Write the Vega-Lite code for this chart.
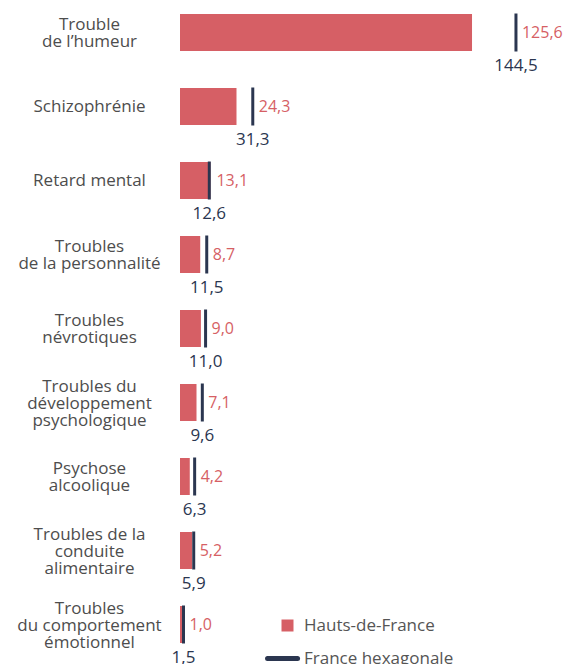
{
  "$schema": "https://vega.github.io/schema/vega-lite/v6.json",
  "width": 372,
  "height": 629,
  "autosize": {"type": "none"},
  "padding": {"left": 180, "top": 14, "right": 11, "bottom": 21},
  "background": "white",
  "config": {
    "view": {"stroke": null},
    "font": "Open Sans",
    "locale": {"number": {"decimal": ",", "thousands": " ", "grouping": [3], "currency": ["", " €"]}}
  },
  "data": {
    "values": [
      {"cat": "Trouble|de l’humeur", "hdf": 125.6, "fr": 144.5},
      {"cat": "Schizophrénie", "hdf": 24.3, "fr": 31.3},
      {"cat": "Retard mental", "hdf": 13.1, "fr": 12.6},
      {"cat": "Troubles|de la personnalité", "hdf": 8.7, "fr": 11.5},
      {"cat": "Troubles|névrotiques", "hdf": 9.0, "fr": 11.0},
      {"cat": "Troubles du|développement|psychologique", "hdf": 7.1, "fr": 9.6},
      {"cat": "Psychose|alcoolique", "hdf": 4.2, "fr": 6.3},
      {"cat": "Troubles de la|conduite|alimentaire", "hdf": 5.2, "fr": 5.9},
      {"cat": "Troubles|du comportement|émotionnel", "hdf": 1.0, "fr": 1.5}
    ]
  },
  "transform": [{"calculate": "max(datum.hdf, datum.fr)", "as": "mx"}],
  "encoding": {
    "y": {
      "field": "cat",
      "type": "nominal",
      "sort": null,
      "scale": {"paddingInner": 0.5, "paddingOuter": 0},
      "axis": {
        "title": null,
        "ticks": false,
        "domain": false,
        "labelAlign": "center",
        "labelPadding": 91,
        "labelFont": "Open Sans",
        "labelFontSize": 17,
        "labelColor": "#4d4d4d",
        "labelLineHeight": 17,
        "labelLimit": 0,
        "labelExpr": "split(datum.label, '|')",
        "labelOffset": {
          "condition": [
            {"test": "length(split(datum.value, '|')) == 3", "value": -16},
            {"test": "length(split(datum.value, '|')) == 2", "value": -7.5}
          ],
          "value": 0
        }
      }
    }
  },
  "layer": [
    {
      "mark": {"type": "bar"},
      "encoding": {
        "x": {"field": "hdf", "type": "quantitative", "scale": {"domain": [0, 160]}, "axis": null},
        "color": {
          "datum": "Hauts-de-France",
          "scale": {"domain": ["Hauts-de-France", "France hexagonale"], "range": ["#d65f65", "#2b3650"]},
          "legend": {
            "orient": "none",
            "legendX": 99,
            "legendY": 603,
            "title": null,
            "padding": 0,
            "labelFont": "Open Sans",
            "labelFontSize": 17,
            "labelColor": "#555555",
            "symbolSize": 144,
            "symbolType": "square",
            "rowPadding": 14,
            "labelOffset": 8,
            "encode": {
              "symbols": {
                "update": {
                  "shape": {"signal": "datum.value === 'France hexagonale' ? 'M-1.33,0H0.67' : 'square'"},
                  "size": {"signal": "datum.value === 'France hexagonale' ? 900 : 144"},
                  "stroke": {"signal": "datum.value === 'France hexagonale' ? '#2b3650' : '#d65f65'"},
                  "strokeWidth": {"signal": "datum.value === 'France hexagonale' ? 5 : 0"},
                  "strokeCap": {"value": "round"},
                  "fill": {"signal": "datum.value === 'France hexagonale' ? 'transparent' : '#d65f65'"},
                  "opacity": {"value": 1}
                }
              }
            }
          }
        }
      }
    },
    {
      "mark": {"type": "tick", "thickness": 3, "size": 38, "opacity": 1},
      "encoding": {
        "x": {"field": "fr", "type": "quantitative"},
        "color": {"datum": "France hexagonale"}
      }
    },
    {
      "mark": {"type": "text", "align": "left", "baseline": "middle", "dx": 6, "fontSize": 16, "color": "#d65f65"},
      "encoding": {
        "x": {"field": "mx", "type": "quantitative"},
        "text": {"field": "hdf", "type": "quantitative", "format": ".1f"}
      }
    },
    {
      "mark": {"type": "text", "align": "center", "baseline": "middle", "dy": 33, "fontSize": 17, "color": "#2b3650"},
      "encoding": {
        "x": {"field": "fr", "type": "quantitative"},
        "text": {"field": "fr", "type": "quantitative", "format": ".1f"}
      }
    }
  ]
}
